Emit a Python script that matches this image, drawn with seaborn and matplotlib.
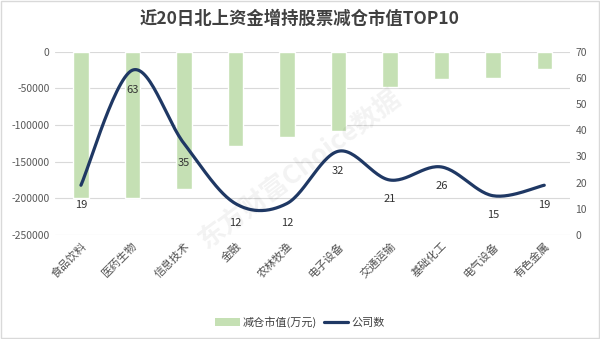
import numpy as np
import pandas as pd
import matplotlib
matplotlib.use("Agg")
import matplotlib.pyplot as plt
import seaborn as sns
from matplotlib.patches import Patch, Rectangle
from matplotlib.lines import Line2D

categories = ["食品饮料", "医药生物", "信息技术", "金融", "农林牧渔",
              "电子设备", "交通运输", "基础化工", "电气设备", "有色金属"]
reduce_value = [-199000, -200000, -187000, -128600, -116700,
                -108500, -48000, -37500, -35200, -23800]
company_count = [19, 63, 35, 12, 12, 32, 21, 26, 15, 19]
left_ticks = [0, -50000, -100000, -150000, -200000, -250000]
right_ticks = [0, 10, 20, 30, 40, 50, 60, 70]
title = "近20日北上资金增持股票减仓市值TOP10"

sns.set_theme(style="white")
plt.rcParams["font.family"] = ["Noto Sans CJK SC", "DejaVu Sans"]
plt.rcParams["axes.unicode_minus"] = False

fig = plt.figure(figsize=(6, 3.39), dpi=100)
ax = fig.add_axes([0.092, 0.307, 0.858, 0.540])

df = pd.DataFrame({"cat": categories, "val": reduce_value})
sns.barplot(data=df, x="cat", y="val", color="#C5E0B4", saturation=1,
            width=0.3, ax=ax)
ax.set_ylim(-250000, 0)
ax.set_xlim(-0.5, len(categories) - 0.5)
ax.set_yticks(left_ticks)
ax.set_yticklabels([str(t) for t in left_ticks], fontsize=7.5, color="#595959")
ax.set_xticks(range(len(categories)))
ax.set_xticklabels(categories, rotation=45, ha="right", rotation_mode="anchor",
                   fontsize=8, color="#505050")
ax.set_xlabel("")
ax.set_ylabel("")
ax.tick_params(axis="both", length=0, pad=4)
ax.grid(axis="y", color="#D9D9D9", linewidth=0.8)
ax.set_axisbelow(True)
for s in ax.spines.values():
    s.set_visible(False)

# smoothed line (Excel-style Bezier through data points)
ax2 = ax.twinx()
xs = np.arange(len(company_count), dtype=float)
ys = np.array(company_count, dtype=float)
px = np.concatenate([[xs[0]], xs, [xs[-1]]])
py = np.concatenate([[ys[0]], ys, [ys[-1]]])
sx, sy = [], []
t = np.linspace(0, 1, 30)
for i in range(len(xs) - 1):
    p0 = np.array([px[i + 1], py[i + 1]])
    p3 = np.array([px[i + 2], py[i + 2]])
    c1 = p0 + (np.array([px[i + 2], py[i + 2]]) - np.array([px[i], py[i]])) / 6
    c2 = p3 - (np.array([px[i + 3], py[i + 3]]) - np.array([px[i + 1], py[i + 1]])) / 6
    b = ((1 - t)[:, None] ** 3 * p0 + 3 * ((1 - t) ** 2 * t)[:, None] * c1
         + 3 * ((1 - t) * t ** 2)[:, None] * c2 + (t ** 3)[:, None] * p3)
    sx.extend(b[:, 0]); sy.extend(b[:, 1])
sns.lineplot(x=sx, y=sy, ax=ax2, color="#1F3864", linewidth=2.3, sort=False)
ax2.set_ylim(0, 70)
ax2.set_yticks(right_ticks)
ax2.set_yticklabels([str(t) for t in right_ticks], fontsize=7.5, color="#595959")
ax2.tick_params(axis="y", length=0, pad=4)
ax2.grid(False)
for s in ax2.spines.values():
    s.set_visible(False)
for x, y in zip(xs, company_count):
    ax2.annotate(str(y), (x, y), xytext=(0, -14), textcoords="offset points",
                 ha="center", va="center", fontsize=8, color="#333333",
                 fontweight="medium")

fig.text(0.5, 0.945, title, ha="center", va="center", fontsize=12.5,
         fontweight="bold", color="#404040")

# watermark
fig.text(0.50, 0.50, "东方财富Choice数据", ha="center", va="center", fontsize=19,
         rotation=37, color="#000000", alpha=0.05, fontstyle="italic",
         fontweight="bold")

handles = [Patch(facecolor="#C5E0B4", edgecolor="none"),
           Line2D([0], [0], color="#1F3864", linewidth=2.3)]
fig.legend(handles, ["减仓市值(万元)", "公司数"], loc="center",
           bbox_to_anchor=(0.5, 0.05), ncol=2, frameon=False, fontsize=8,
           handlelength=2.2, handletextpad=0.3, columnspacing=0.6,
           labelcolor="#404040")

fig.patches.append(Rectangle((0.002, 0.003), 0.996, 0.994, transform=fig.transFigure,
                             fill=False, edgecolor="#D9D9D9", linewidth=1))
fig.savefig("out.png", dpi=100)
